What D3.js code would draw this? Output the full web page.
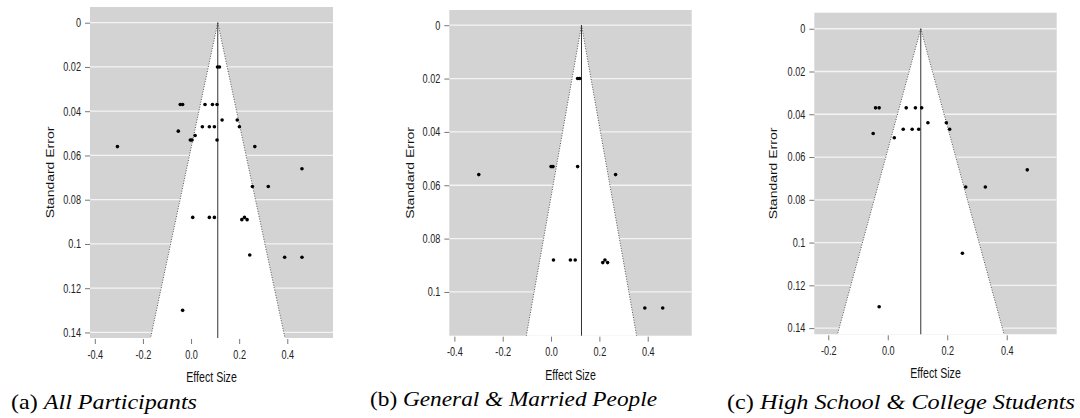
<!DOCTYPE html>
<html>
<head>
<meta charset="utf-8">
<script src="https://cdn.jsdelivr.net/npm/d3@7"></script>
<style>
  html, body { margin: 0; padding: 0; background: #fff; }
  svg { display: block; }
</style>
</head>
<body>
<svg id="chart" width="1080" height="418"></svg>
<script>
// ---------- DATA ----------
// (a) All Participants
const effectA = [-0.306, -0.045, -0.035, -0.053, -0.003, 0.004, 0.017, 0.058, 0.089, 0.108, 0.047, 0.076, 0.097, 0.108, 0.110, 0.118, 0.129, 0.192, 0.201, 0.265, 0.461, 0.255, 0.321, 0.007, 0.076, 0.097, 0.211, 0.222, 0.233, 0.244, 0.389, 0.461, -0.035];
const seA     = [0.056, 0.037, 0.037, 0.049, 0.053, 0.053, 0.051, 0.037, 0.037, 0.037, 0.047, 0.047, 0.047, 0.053, 0.020, 0.020, 0.044, 0.044, 0.047, 0.056, 0.066, 0.074, 0.074, 0.088, 0.088, 0.088, 0.089, 0.088, 0.089, 0.105, 0.106, 0.106, 0.130];
const summaryA = 0.111;

// (b) General & Married People
const effectB = [-0.299, 0.000, 0.008, 0.110, 0.110, 0.119, 0.267, 0.010, 0.080, 0.100, 0.214, 0.223, 0.234, 0.388, 0.462];
const seB     = [0.056, 0.053, 0.053, 0.053, 0.020, 0.020, 0.056, 0.088, 0.088, 0.088, 0.089, 0.088, 0.089, 0.106, 0.106];
const summaryB = 0.126;

// (c) High School & College Students
const effectC = [-0.041, -0.029, -0.049, 0.022, 0.052, 0.082, 0.104, 0.062, 0.093, 0.114, 0.135, 0.197, 0.208, 0.469, 0.262, 0.328, 0.251, -0.029];
const seC     = [0.037, 0.037, 0.049, 0.051, 0.047, 0.047, 0.047, 0.037, 0.037, 0.037, 0.044, 0.044, 0.047, 0.066, 0.074, 0.074, 0.105, 0.130];
const summaryC = 0.111;

// tick values
const yTicksA = [0, 0.02, 0.04, 0.06, 0.08, 0.1, 0.12, 0.14];
const yTicksB = [0, 0.02, 0.04, 0.06, 0.08, 0.1];
const yTicksC = [0, 0.02, 0.04, 0.06, 0.08, 0.1, 0.12, 0.14];
const xTicksA = [-0.4, -0.2, 0.0, 0.2, 0.4];
const xTicksB = [-0.4, -0.2, 0.0, 0.2, 0.4];
const xTicksC = [-0.2, 0.0, 0.2, 0.4];

// axis limits (data units)
const xLimA = [-0.42, 0.59],   yLimA = [-0.0071, 0.1425];
const xLimB = [-0.421, 0.582], yLimB = [-0.0057, 0.1164];
const xLimC = [-0.247, 0.568], yLimC = [-0.0075, 0.1429];

// texts
const xLabel = "Effect Size";
const yLabel = "Standard Error";
const tagA = "(a) ", titleA = "All Participants";
const tagB = "(b) ", titleB = "General & Married People";
const tagC = "(c) ", titleC = "High School & College Students";

// ---------- LAYOUT ----------
const layoutA = {left: 90, right: 333, top: 7, bottom: 338, ylabX: 54, capX: 11, capW: 186, capY: 409};
const layoutB = {left: 449.3, right: 691.7, top: 10, bottom: 335.7, ylabX: 414, capX: 370, capW: 287, capY: 406};
const layoutC = {left: 814.3, right: 1056.7, top: 12.7, bottom: 334.3, ylabX: 777, capX: 727, capW: 348, capY: 409};

const panels = [
  {effect: effectA, se: seA, mu: summaryA, yTicks: yTicksA, xTicks: xTicksA, xlim: xLimA, ylim: yLimA, tag: tagA, title: titleA, L: layoutA},
  {effect: effectB, se: seB, mu: summaryB, yTicks: yTicksB, xTicks: xTicksB, xlim: xLimB, ylim: yLimB, tag: tagB, title: titleB, L: layoutB},
  {effect: effectC, se: seC, mu: summaryC, yTicks: yTicksC, xTicks: xTicksC, xlim: xLimC, ylim: yLimC, tag: tagC, title: titleC, L: layoutC}
];

const SQ = 0.76; // horizontal squeeze of sans text
const sans = "'Liberation Sans', Arial, sans-serif";
const serif = "'Liberation Serif', 'Times New Roman', serif";

const svg = d3.select("#chart");

function drawPanel(p) {
  const L = p.L;
  const x = d3.scaleLinear().domain(p.xlim).range([L.left, L.right]);
  const y = d3.scaleLinear().domain(p.ylim).range([L.top, L.bottom]);
  const g = svg.append("g");

  // gray plotting background
  g.append("rect")
    .attr("x", x(p.xlim[0])).attr("y", y(p.ylim[0]))
    .attr("width", x(p.xlim[1]) - x(p.xlim[0]))
    .attr("height", y(p.ylim[1]) - y(p.ylim[0]))
    .attr("fill", "#d3d3d3");

  // white gridlines
  g.selectAll("line.grid").data(p.yTicks).enter().append("line")
    .attr("class", "grid")
    .attr("x1", x(p.xlim[0])).attr("x2", x(p.xlim[1]))
    .attr("y1", d => y(d)).attr("y2", d => y(d))
    .attr("stroke", "#f4f4f4").attr("stroke-width", 1.3);

  // funnel (pseudo 95% CI)
  const seMax = p.ylim[1];
  const apex = [x(p.mu), y(0)];
  const bl = [x(p.mu - 1.96 * seMax), y(seMax)];
  const br = [x(p.mu + 1.96 * seMax), y(seMax)];
  g.append("path")
    .attr("d", d3.line()([apex, bl, br]) + "Z")
    .attr("fill", "#ffffff");
  [bl, br].forEach(pt => {
    g.append("path")
      .attr("d", d3.line()([apex, pt]))
      .attr("stroke", "#555").attr("stroke-width", 1)
      .attr("stroke-dasharray", "1,1.6").attr("fill", "none");
  });

  // summary effect line
  g.append("line")
    .attr("x1", x(p.mu)).attr("x2", x(p.mu))
    .attr("y1", y(0)).attr("y2", y(seMax))
    .attr("stroke", "#333").attr("stroke-width", 1);

  // studies
  g.selectAll("circle").data(p.effect.map((e, i) => [e, p.se[i]])).enter().append("circle")
    .attr("cx", d => x(d[0])).attr("cy", d => y(d[1]))
    .attr("r", 1.8).attr("fill", "#000");

  // y axis
  const yAxis = d3.axisLeft(y).tickValues(p.yTicks).tickSize(5).tickPadding(4)
    .tickFormat(d => String(+d.toFixed(2)));
  const ya = g.append("g").attr("transform", `translate(${L.left},0)`).call(yAxis);
  ya.select(".domain").remove();
  ya.selectAll(".tick line").attr("stroke", "#777");
  ya.selectAll(".tick text")
    .attr("x", -9 / SQ)
    .attr("transform", `scale(${SQ},1)`)
    .attr("fill", "#222")
    .style("font-family", sans).style("font-size", "12px");

  // x axis
  const xAxis = d3.axisBottom(x).tickValues(p.xTicks).tickSize(5).tickPadding(6)
    .tickFormat(d => d.toFixed(1));
  const xa = g.append("g").attr("transform", `translate(0,${L.bottom + 1})`).call(xAxis);
  xa.select(".domain").remove();
  xa.selectAll(".tick line").attr("stroke", "#777");
  xa.selectAll(".tick text")
    .attr("transform", `scale(${SQ},1)`)
    .attr("fill", "#222")
    .style("font-family", sans).style("font-size", "12px");

  // axis titles
  const cx = (L.left + L.right) / 2;
  g.append("text")
    .attr("transform", `translate(${cx},${L.bottom + 44}) scale(${SQ},1)`)
    .attr("text-anchor", "middle")
    .style("font-family", sans).style("font-size", "14px").attr("fill", "#111")
    .text(xLabel);
  const cy = (L.top + L.bottom) / 2;
  g.append("text")
    .attr("transform", `translate(${L.ylabX},${cy}) rotate(-90) scale(1,${SQ})`)
    .attr("text-anchor", "middle")
    .style("font-family", sans).style("font-size", "14px").attr("fill", "#111")
    .text(yLabel);

  // caption
  const cap = g.append("text")
    .attr("x", L.capX).attr("y", L.capY)
    .attr("textLength", L.capW).attr("lengthAdjust", "spacingAndGlyphs")
    .style("font-family", serif).style("font-size", "21px").attr("fill", "#000");
  cap.append("tspan").text(p.tag);
  cap.append("tspan").style("font-style", "italic").text(p.title);
}

panels.forEach(drawPanel);
</script>
</body>
</html>
